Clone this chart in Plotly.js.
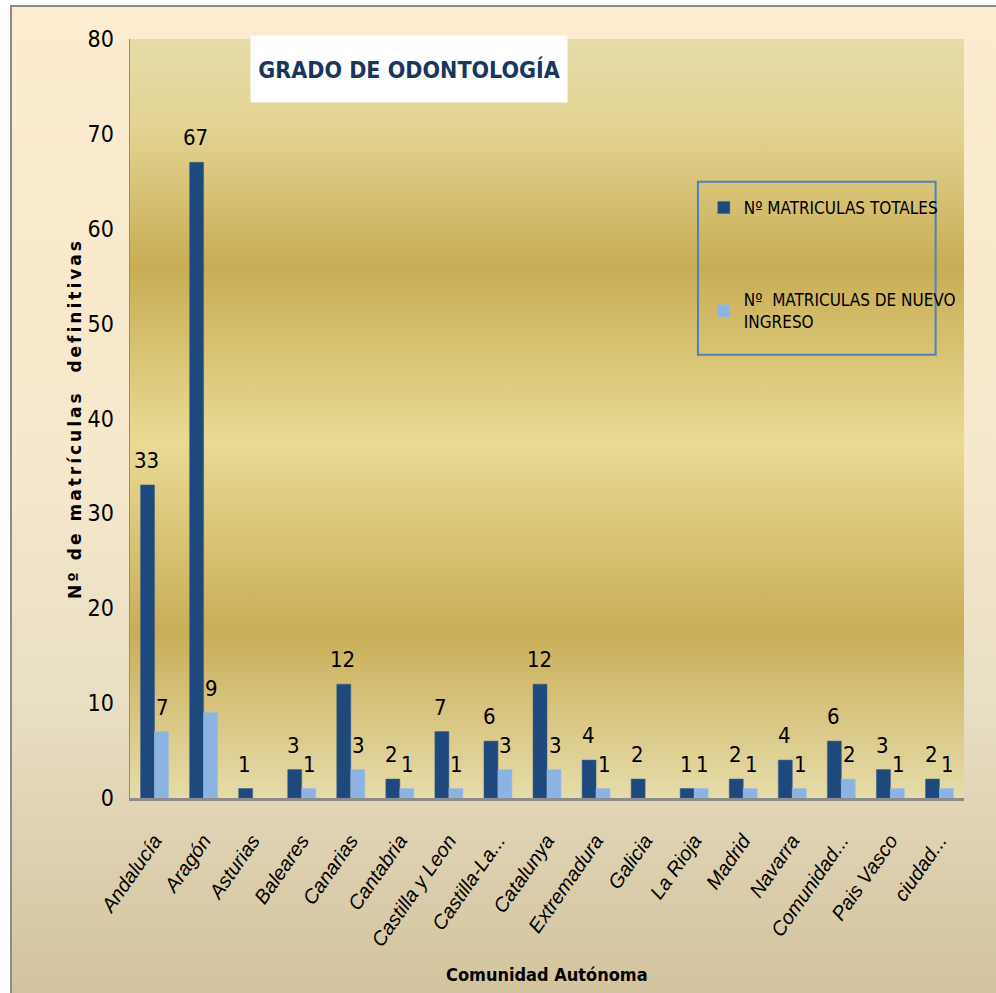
<!DOCTYPE html>
<html>
<head>
<meta charset="utf-8">
<script src="https://cdn.plot.ly/plotly-3.0.1.min.js"></script>
<style>
  html, body { margin: 0; padding: 0; background: #ffffff; }
  #bg { position: absolute; left: 10px; top: 5px; width: 986px; height: 988px;
        border-top: 2px solid #8c8c8c; border-left: 2px solid #8c8c8c; box-sizing: border-box;
        background: linear-gradient(to bottom, #fdeccf 0%, #f6e8cc 45%, #e9dfc4 70%, #d3c39e 100%); }
  #chart { position: absolute; left: 0; top: 0; width: 996px; height: 993px; }
  #chart .ytitle { letter-spacing: 3px; }
</style>
</head>
<body>
<div id="bg"></div>
<div id="chart"></div>
<script>
const categories = ["Andalucía", "Aragón", "Asturias", "Baleares", "Canarias", "Cantabria",
  "Castilla y Leon", "Castilla-La...", "Catalunya", "Extremadura", "Galicia", "La Rioja",
  "Madrid", "Navarra", "Comunidad...", "Pais Vasco", "ciudad..."];
const totales = [33, 67, 1, 3, 12, 2, 7, 6, 12, 4, 2, 1, 2, 4, 6, 3, 2];
const nuevoIngreso = [7, 9, null, 1, 3, 1, 1, 3, 3, 1, null, 1, 1, 1, 2, 1, 1];
const seriesNames = ["Nº MATRICULAS TOTALES", "Nº  MATRICULAS DE NUEVO<br>INGRESO"];
const yTicks = [0, 10, 20, 30, 40, 50, 60, 70, 80];

const COND = "DejaVu Sans Condensed, DejaVu Sans, sans-serif";

const plotGrad = "data:image/svg+xml;charset=utf-8," + encodeURIComponent(
  '<svg xmlns="http://www.w3.org/2000/svg" width="100" height="100" preserveAspectRatio="none">' +
  '<defs><linearGradient id="g" x1="0" y1="0" x2="0" y2="1">' +
  '<stop offset="0" stop-color="#e6dcaa"/>' +
  '<stop offset="0.12" stop-color="#e3d391"/>' +
  '<stop offset="0.30" stop-color="#c8ad55"/>' +
  '<stop offset="0.53" stop-color="#e9da94"/>' +
  '<stop offset="0.78" stop-color="#c9ae58"/>' +
  '<stop offset="1" stop-color="#e6dcaa"/>' +
  '</linearGradient></defs><rect width="100" height="100" fill="url(#g)"/></svg>');

const labelFont = { family: COND, size: 22, color: "#000000" };

const traces = [
  { type: "bar", name: seriesNames[0], x: categories, y: totales, legendgroup: "a",
    marker: { color: "#1f497d", line: { color: "#3b5f8c", width: 0.5 } }, hoverinfo: "x+y" },
  { type: "bar", name: seriesNames[1], x: categories, y: nuevoIngreso, legendgroup: "b",
    marker: { color: "#8db3e2", line: { color: "#9dbde6", width: 0.5 } }, hoverinfo: "x+y" }
];

// value labels placed above each bar via the axis scales
const valueLabels = [];
[[totales, -8], [nuevoIngreso, 8]].forEach(([vals, dx]) => {
  vals.forEach((v, i) => {
    if (v == null) return;
    valueLabels.push({ x: categories[i], y: v, xref: "x", yref: "y", text: String(v),
      showarrow: false, xanchor: "center", yanchor: "bottom", xshift: dx, yshift: 10,
      font: labelFont });
  });
});

const layout = {
  width: 996, height: 993,
  margin: { l: 130, r: 32, t: 39, b: 195 },
  paper_bgcolor: "rgba(0,0,0,0)",
  plot_bgcolor: "rgba(0,0,0,0)",
  barmode: "group", bargap: 0.43, bargroupgap: 0,
  showlegend: true,
  legend: {
    x: 0.688, y: 0.801, xanchor: "left", yanchor: "top",
    bgcolor: "rgba(0,0,0,0)", borderwidth: 0,
    tracegroupgap: 67, traceorder: "grouped", itemwidth: 30,
    font: { family: COND, size: 17, color: "#000000" }
  },
  xaxis: {
    type: "category", tickangle: -55, showline: true, linecolor: "#8c8c8c", linewidth: 3,
    ticks: "", showgrid: false, zeroline: false, ticklabelstandoff: 20,
    tickfont: { family: "Liberation Sans, Arial, sans-serif", size: 20, style: "italic", color: "#000000" }
  },
  yaxis: {
    range: [0, 80], tickvals: yTicks, ticktext: yTicks.map(String),
    showline: true, linecolor: "#8c8c8c", linewidth: 1.5, ticks: "", showgrid: false, zeroline: false,
    tickfont: { family: COND, size: 23, color: "#000000" },
    ticklabelstandoff: 10,
    title: { text: "Nº de matrículas  definitivas", standoff: 1,
      font: { family: "DejaVu Sans, sans-serif", size: 17, weight: "bold", color: "#000000" } }
  },
  images: [{ source: plotGrad, xref: "paper", yref: "paper", x: 0, y: 1, sizex: 1, sizey: 1,
    xanchor: "left", yanchor: "top", sizing: "stretch", layer: "below" }],
  shapes: [{ type: "rect", xref: "paper", yref: "paper", x0: 0.681, x1: 0.966, y0: 0.584, y1: 0.812,
    line: { color: "#4f81bd", width: 2 }, fillcolor: "rgba(0,0,0,0)" }],
  annotations: [{
    text: "<b>GRADO DE ODONTOLOGÍA</b>", xref: "paper", yref: "paper", x: 0.3345, y: 1.005,
    xanchor: "center", yanchor: "top", showarrow: false, bgcolor: "#ffffff",
    width: 314, height: 64, align: "center", valign: "middle",
    font: { family: COND, size: 23, color: "#17375e" }
  }, {
    text: "<b>Comunidad Autónoma</b>", xref: "paper", yref: "paper", x: 0.5, y: -0.233,
    xanchor: "center", yanchor: "middle", showarrow: false,
    font: { family: COND, size: 18, color: "#000000" }
  }].concat(valueLabels)
};

Plotly.newPlot("chart", traces, layout, { displayModeBar: false, staticPlot: true });
</script>
</body>
</html>
